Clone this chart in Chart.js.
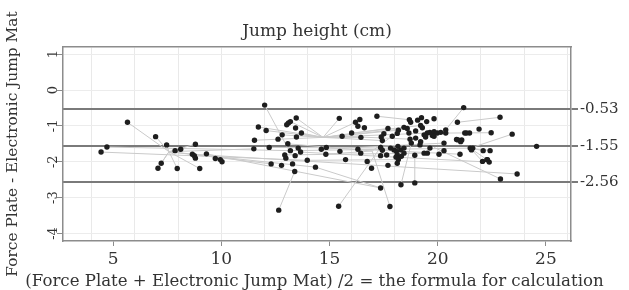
<!DOCTYPE html>
<html><head><meta charset="utf-8">
<script src="https://cdn.jsdelivr.net/npm/chart.js@4/dist/chart.umd.min.js"></script>
<style>html,body{margin:0;padding:0;background:#fff;}#wrap{width:629px;height:290px;}</style>
</head><body><div id="wrap"><canvas id="c" width="629" height="290"></canvas></div>
<script>
// ---- text ----
const chartTitle = 'Jump height (cm)';
const xTitle = '(Force Plate + Electronic Jump Mat) /2 = the formula for calculation';
const yTitle = 'Force Plate - Electronic Jump Mat';

// ---- axes ----
const xRange = [2.68, 26.16];
const yRange = [-4.21, 1.2];
const xTickValues = [5, 10, 15, 20, 25];
const xGridValues = [4, 6, 8, 10, 12, 14, 16, 18, 20, 22, 24, 26];
const yTickValues = [-4, -3, -2, -1, 0, 1];
const limitValues = [-0.53, -1.55, -2.56];   // upper LoA, mean bias, lower LoA

// ---- data: mean of the two methods (x) and their difference (y) ----
const meanX = [5.66,6.96,7.47,8.80,4.71,4.44,7.86,8.12,8.66,8.75,8.80,9.31,7.22,7.07,7.96,9.00,9.95,10.03,9.72,
 12.00,12.65,11.71,12.07,11.53,11.50,12.21,12.30,12.78,13.29,13.39,12.81,12.62,13.02,13.10,13.19,13.46,13.43,13.70,13.47,13.07,13.19,13.55,13.66,12.93,12.98,13.41,13.97,14.35,
 15.45,15.42,16.20,16.40,16.31,16.61,17.19,17.70,18.18,15.58,16.02,16.45,17.51,17.39,17.44,17.90,14.62,14.85,14.83,15.48,15.74,16.31,16.44,16.74,16.94,17.36,17.44,17.36,17.64,17.70,17.82,17.98,18.09,18.13,18.07,18.18,18.13,17.36,17.79,18.30,
 21.20,18.69,18.75,19.07,19.25,19.49,19.83,20.91,18.44,18.59,18.13,19.21,19.29,18.98,18.67,19.52,19.64,19.83,19.98,20.14,20.37,20.37,19.37,19.44,19.75,19.83,20.87,21.11,21.25,21.47,21.91,18.72,18.98,19.21,18.78,18.16,18.29,18.44,18.44,18.32,18.94,19.37,19.52,19.64,20.06,20.29,20.29,21.03,21.50,21.56,18.94,19.18,
 22.88,22.47,23.44,24.57,22.10,22.42,22.07,22.27,22.38,23.67,22.90,21.33,21.06,20.94,21.62,22.30];
const diffY = [-0.90,-1.30,-1.53,-1.51,-1.59,-1.73,-1.69,-1.65,-1.79,-1.83,-1.90,-1.78,-2.04,-2.18,-2.19,-2.19,-1.94,-2.00,-1.91,
 -0.42,-3.35,-1.03,-1.13,-1.40,-1.64,-1.60,-2.06,-2.10,-2.06,-2.27,-1.25,-1.37,-0.97,-0.92,-0.88,-0.78,-1.06,-1.20,-1.31,-1.50,-1.69,-1.62,-1.73,-1.81,-1.90,-1.83,-1.96,-2.15,
 -0.79,-3.24,-0.90,-0.82,-1.01,-1.05,-0.73,-1.07,-1.12,-1.29,-1.20,-1.32,-1.22,-1.31,-1.41,-1.29,-1.65,-1.60,-1.79,-1.71,-1.94,-1.65,-1.76,-1.99,-2.18,-1.60,-1.68,-1.83,-1.81,-2.10,-1.62,-1.67,-1.71,-1.81,-1.87,-1.94,-2.04,-2.73,-3.25,-2.64,
 -0.49,-0.83,-0.90,-0.84,-0.77,-0.88,-0.80,-0.90,-1.04,-1.07,-1.21,-0.99,-1.05,-1.14,-1.20,-1.20,-1.18,-1.16,-1.20,-1.18,-1.11,-1.20,-1.25,-1.31,-1.27,-1.29,-1.38,-1.39,-1.20,-1.20,-1.09,-1.37,-1.34,-1.44,-1.48,-1.57,-1.67,-1.62,-1.76,-1.85,-1.82,-1.76,-1.76,-1.62,-1.79,-1.69,-1.48,-1.79,-1.62,-1.67,-2.59,-1.53,
 -0.76,-1.19,-1.23,-1.57,-1.69,-1.69,-1.99,-1.94,-2.01,-2.34,-2.48,-1.20,-1.44,-1.39,-1.62,-1.94];

// ---- thin connecting links seen in the figure: [x1, y1, x2, y2] ----
const links = [
 [5.66,-0.90,7.58,-1.72],[6.96,-1.30,7.58,-1.72],[7.47,-1.53,7.58,-1.72],[7.22,-2.04,7.58,-1.72],
 [7.07,-2.18,7.58,-1.72],[7.96,-2.19,7.58,-1.72],[9.00,-2.19,7.58,-1.72],[8.80,-1.51,7.58,-1.72],
 [7.58,-1.72,8.12,-1.65],[4.71,-1.59,13.19,-1.69],[4.44,-1.73,13.97,-1.96],[7.58,-1.72,14.35,-2.15],
 [7.58,-1.72,12.30,-2.06],[7.58,-1.72,11.50,-1.64],[9.31,-1.78,17.36,-2.73],[8.66,-1.79,23.67,-2.34],
 [12.00,-0.42,13.10,-1.65],[12.65,-3.35,13.39,-2.27],[11.71,-1.03,14.70,-1.32],[12.07,-1.13,14.70,-1.32],
 [13.46,-0.78,14.70,-1.32],[13.19,-0.88,14.70,-1.32],[12.81,-1.25,14.70,-1.32],[11.53,-1.40,14.70,-1.32],
 [13.70,-1.20,14.70,-1.32],[14.70,-1.32,15.45,-0.79],[14.70,-1.32,16.20,-0.90],[14.70,-1.32,17.70,-1.07],
 [14.70,-1.32,18.18,-1.12],[14.70,-1.32,18.59,-1.07],[14.70,-1.32,19.52,-1.20],[14.70,-1.32,17.44,-1.41],
 [14.70,-1.32,16.45,-1.32],[15.42,-3.24,17.36,-1.60],[17.79,-3.25,16.97,-1.70],[16.97,-1.70,13.07,-1.50],
 [16.97,-1.70,14.83,-1.79],[16.97,-1.70,18.44,-1.04],[18.30,-2.64,18.78,-1.48],[18.94,-2.59,18.94,-1.82],
 [14.35,-2.15,17.36,-2.73],[21.20,-0.49,20.37,-1.11],[22.88,-0.76,20.91,-0.90],[22.47,-1.19,20.37,-1.20],
 [23.44,-1.23,21.50,-1.62],[22.90,-2.48,19.83,-1.60],[21.50,-1.62,22.10,-1.69],[21.50,-1.62,22.42,-1.69],
 [21.50,-1.62,22.07,-1.99],[21.50,-1.62,22.27,-1.94],[13.19,-1.69,21.50,-1.62],[13.66,-1.73,22.38,-2.01],
 [12.93,-1.81,19.37,-1.76],[13.97,-1.96,18.18,-1.94],[12.21,-1.60,17.82,-1.62],[14.62,-1.65,20.29,-1.48],
 [16.31,-1.65,21.03,-1.79],[15.58,-1.29,18.72,-1.37],[16.02,-1.20,19.21,-0.99],[17.19,-0.73,18.69,-0.83]
];

// ---- build datasets from arrays ----
const pointData = meanX.map((x, i) => ({x: x, y: diffY[i]}));
const linkData = [];
links.forEach(l => { linkData.push({x: l[0], y: l[1]}, {x: l[2], y: l[3]}, {x: null, y: null}); });

const FONT = "'DejaVu Serif', 'Liberation Serif', serif";
const TXT = '#333333';
const FRAME = '#8c8c8c';
const setTicks = vals => (s) => { s.ticks = vals.map(v => ({value: v})); };

new Chart(document.getElementById('c'), {
  type: 'scatter',
  data: {
    datasets: [
      { label: 'points', data: pointData, order: 0, xAxisID: 'x', yAxisID: 'y',
        pointRadius: 2.7, pointHoverRadius: 2.7, pointBackgroundColor: '#1e1e1e', pointBorderWidth: 0, showLine: false },
      { label: 'links', type: 'line', data: linkData, order: 1, xAxisID: 'x', yAxisID: 'y',
        borderColor: '#cacaca', borderWidth: 1, pointRadius: 0, spanGaps: false, fill: false, tension: 0 }
    ]
  },
  options: {
    responsive: false, animation: false, events: [],
    layout: { padding: 0 },
    plugins: {
      legend: { display: false }, tooltip: { enabled: false },
      title: { display: true, position: 'bottom', text: xTitle, color: TXT, padding: { top: 3, bottom: 0 },
               font: { family: FONT, size: 16.6, weight: 'normal', lineHeight: 1 } }
    },
    scales: {
      x: {
        type: 'linear', position: 'bottom', min: xRange[0], max: xRange[1],
        afterBuildTicks: setTicks(xTickValues),
        afterFit: s => { s.height = 29.4; },
        grid: { drawOnChartArea: false, drawTicks: true, tickLength: 5, tickColor: FRAME, color: FRAME },
        border: { display: true, color: FRAME, width: 1.5 },
        ticks: { autoSkip: false, maxRotation: 0, padding: 3, color: TXT, font: { family: FONT, size: 17 } }
      },
      x2: {
        type: 'linear', position: 'top', min: xRange[0], max: xRange[1],
        afterBuildTicks: setTicks(xGridValues),
        afterFit: s => { s.height = 47; },
        grid: { drawOnChartArea: true, drawTicks: false, tickLength: 0, color: '#e9e9e9', lineWidth: 1 },
        border: { display: true, color: FRAME, width: 1.5 },
        ticks: { display: false },
        title: { display: true, text: chartTitle, color: TXT, padding: { top: 23, bottom: 0 }, font: { family: FONT, size: 17, lineHeight: 1 } }
      },
      y: {
        type: 'linear', position: 'left', min: yRange[0], max: yRange[1],
        afterBuildTicks: setTicks(yTickValues),
        afterFit: s => { s.width = 63; },
        grid: { drawOnChartArea: true, drawTicks: true, tickLength: 6, color: '#ececec', tickColor: FRAME },
        border: { display: true, color: FRAME, width: 1.5 },
        ticks: { autoSkip: false, minRotation: 90, maxRotation: 90, crossAlign: 'center', padding: -3, color: TXT, font: { family: FONT, size: 13 } },
        title: { display: true, text: yTitle, color: TXT, padding: { top: 4, bottom: 0 }, font: { family: FONT, size: 15.4, lineHeight: 1.2 } }
      },
      y2: {
        type: 'linear', position: 'right', min: yRange[0], max: yRange[1],
        afterBuildTicks: setTicks(limitValues),
        afterFit: s => { s.width = 58; },
        grid: { drawOnChartArea: true, drawTicks: true, tickLength: 7, color: '#7a7a7a', lineWidth: 2 },
        border: { display: true, color: FRAME, width: 1.5 },
        ticks: { autoSkip: false, padding: 2, color: TXT, font: { family: FONT, size: 15 }, callback: v => v.toFixed(2) }
      }
    }
  }
});
</script>
</body></html>
